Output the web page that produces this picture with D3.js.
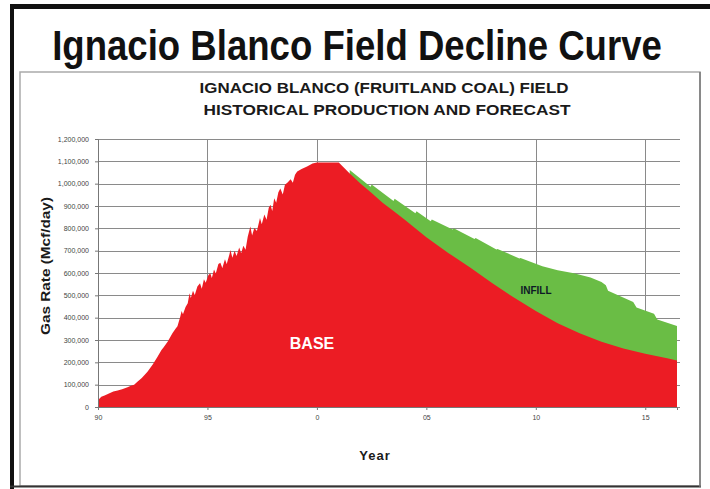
<!DOCTYPE html>
<html><head><meta charset="utf-8">
<script src="https://cdn.jsdelivr.net/npm/d3@7/dist/d3.min.js"></script>
<style>body{margin:0;background:#fff}svg{display:block}</style>
</head><body><svg id="c" width="710" height="489"></svg>
<script>
// ---- data (gas rate, Mcf/day) ----
const baseYears = [1990.00,1990.04,1990.15,1990.30,1990.50,1990.70,1990.90,1991.10,1991.35,1991.50,1991.65,1991.80,1992.00,1992.26,1992.50,1992.72,1992.90,1993.00,1993.18,1993.40,1993.55,1993.63,1993.70,1993.76,1993.82,1993.88,1994.00,1994.10,1994.18,1994.24,1994.34,1994.42,1994.54,1994.66,1994.74,1994.84,1994.92,1995.04,1995.13,1995.20,1995.30,1995.38,1995.50,1995.59,1995.68,1995.80,1995.88,1996.00,1996.05,1996.14,1996.24,1996.33,1996.45,1996.54,1996.64,1996.74,1996.84,1996.96,1997.04,1997.14,1997.26,1997.40,1997.48,1997.60,1997.70,1997.80,1997.88,1997.96,1998.05,1998.14,1998.24,1998.33,1998.44,1998.54,1998.66,1998.80,1998.90,1999.00,1999.10,1999.30,1999.55,1999.80,2000.00,2001.00,
  2001.50,2002.00,2002.50,2003.00,2003.50,2004.00,2005.00,2006.00,2007.00,2008.00,2009.00,2010.00,2011.00,2012.00,2013.00,2014.00,2015.00,2016.00,2016.45];
const baseRates = [15000,35000,46000,52000,60000,69000,74000,80000,88000,95000,100000,113000,130000,158000,190000,225000,255000,268000,292000,330000,352000,362000,385000,405000,430000,415000,448000,465000,509000,488000,520000,502000,540000,554000,530000,572000,556000,590000,599000,578000,616000,598000,640000,646000,622000,662000,640000,682000,703000,668000,700000,676000,714000,688000,722000,704000,762000,808000,768000,802000,788000,846000,818000,862000,838000,892000,906000,878000,935000,915000,962000,978000,952000,995000,1005000,1020000,1004000,1040000,1055000,1066000,1077000,1090000,1095000,1095000,
  1045000,1000000,958000,915000,878000,840000,760000,690000,625000,555000,490000,430000,375000,330000,292000,262000,238000,218000,208000];
const infillYears = [2001.50,2002.45,2002.50,2003.50,2003.55,2004.50,2004.55,2005.20,2005.25,2006.20,2006.25,2007.20,2007.25,2008.20,2008.25,2009.25,2009.30,2010.30,2011.00,2011.74,2012.50,2013.00,2013.20,2013.30,2014.45,2014.60,2015.40,2015.55,2016.45];
const totalRates = [1061000,986000,996000,922000,932000,867000,876000,832000,840000,795000,800000,752000,757000,705000,708000,665000,667000,630000,612000,599000,580000,560000,545000,520000,470000,445000,418000,392000,363000];
const yTicks = [0,100000,200000,300000,400000,500000,600000,700000,800000,900000,1000000,1100000,1200000];
const xTicks = [1990,1995,2000,2005,2010,2015];
const xTickLabels = ["90","95","0","05","10","15"];

const svg = d3.select("#c");
const FONT = "Liberation Sans, Arial, Helvetica, sans-serif";

// frame
svg.append("rect").attr("x",10).attr("y",4).attr("width",700).attr("height",5).attr("fill","#111");
svg.append("rect").attr("x",10).attr("y",4).attr("width",4).attr("height",485).attr("fill","#111");
svg.append("rect").attr("x",20).attr("y",72).attr("width",680).attr("height",414)
  .attr("fill","none").attr("stroke","#aaa").attr("stroke-width",1.5);
svg.append("line").attr("x1",10).attr("x2",701).attr("y1",486.5).attr("y2",486.5).attr("stroke","#333").attr("stroke-width",2);
svg.append("line").attr("x1",700).attr("x2",700).attr("y1",72).attr("y2",487).attr("stroke","#777").attr("stroke-width",1.5);

// main title: condensed by measuring its natural width and scaling to 610px
const tg = svg.append("g").attr("transform","translate(357,60)");
const tt = tg.append("text").attr("x",0).attr("y",0).attr("text-anchor","middle")
  .attr("font-family","Liberation Sans Narrow, Arial Narrow, Liberation Sans, Arial, sans-serif")
  .attr("font-weight","bold").attr("font-size",43).attr("fill","#111")
  .text("Ignacio Blanco Field Decline Curve");
const natural = tt.node().getComputedTextLength();
tg.attr("transform",`translate(357,60) scale(${610/natural},1)`);

svg.append("text").attr("x",384).attr("y",93).attr("text-anchor","middle")
  .attr("font-family",FONT).attr("font-weight","bold").attr("font-size",14).attr("fill","#1a1a1a")
  .attr("textLength",369).attr("lengthAdjust","spacingAndGlyphs")
  .text("IGNACIO BLANCO (FRUITLAND COAL) FIELD");
svg.append("text").attr("x",387).attr("y",115).attr("text-anchor","middle")
  .attr("font-family",FONT).attr("font-weight","bold").attr("font-size",14).attr("fill","#1a1a1a")
  .attr("textLength",367).attr("lengthAdjust","spacingAndGlyphs")
  .text("HISTORICAL PRODUCTION AND FORECAST");

// scales
const x = d3.scaleLinear().domain([1990, 2016.45]).range([98, 677]);
const y = d3.scaleLinear().domain([0, 1200000]).range([407, 139]);

// grid
const g = svg.append("g");
g.selectAll("line.h").data(yTicks).join("line").attr("class","h")
  .attr("x1",x(1990)).attr("x2",680).attr("y1",d=>Math.round(y(d))+0.5).attr("y2",d=>Math.round(y(d))+0.5)
  .attr("stroke","#8a8a8a").attr("stroke-width",1);
g.selectAll("line.v").data(xTicks.slice(1)).join("line").attr("class","v")
  .attr("x1",d=>Math.round(x(d))+0.5).attr("x2",d=>Math.round(x(d))+0.5).attr("y1",y(1200000)).attr("y2",y(0))
  .attr("stroke","#8a8a8a").attr("stroke-width",1);

// areas
const baseData = baseYears.map((yr,i)=>({yr, v: baseRates[i]}));
const totalData = infillYears.map((yr,i)=>({yr, v: totalRates[i]}));
const area = d3.area().x(d=>x(d.yr)).y0(y(0)).y1(d=>y(d.v));
svg.append("path").datum(totalData).attr("d",area).attr("fill","#6abd45");
svg.append("path").datum(baseData).attr("d",area).attr("fill","#ec1c24");

// axes
const ya = svg.append("g").attr("transform",`translate(${x(1990)},0)`)
  .call(d3.axisLeft(y).tickValues(yTicks).tickFormat(d3.format(",")).tickSize(3).tickPadding(6));
const xa = svg.append("g").attr("transform",`translate(0,${y(0)})`)
  .call(d3.axisBottom(x).tickValues(xTicks).tickFormat((d,i)=>xTickLabels[i]).tickSize(3).tickPadding(5));
[ya,xa].forEach(a=>{
  a.select(".domain").attr("stroke","#777");
  a.selectAll(".tick line").attr("stroke","#777");
  a.selectAll("text").attr("font-family",FONT).attr("font-size",7).attr("fill","#444");
});

// axis titles
svg.append("text").attr("transform","translate(50,266) rotate(-90)").attr("text-anchor","middle")
  .attr("font-family",FONT).attr("font-weight","bold").attr("font-size",13).attr("fill","#1a1a1a")
  .attr("textLength",138).attr("lengthAdjust","spacingAndGlyphs")
  .text("Gas Rate (Mcf/day)");
svg.append("text").attr("x",375).attr("y",460).attr("text-anchor","middle")
  .attr("font-family",FONT).attr("font-weight","bold").attr("font-size",13).attr("fill","#1a1a1a")
  .attr("letter-spacing",1).text("Year");

// area labels
svg.append("text").attr("x",312).attr("y",349).attr("text-anchor","middle")
  .attr("font-family",FONT).attr("font-weight","bold").attr("font-size",16).attr("fill","#fff").text("BASE");
svg.append("text").attr("x",536).attr("y",294).attr("text-anchor","middle")
  .attr("font-family",FONT).attr("font-weight","bold").attr("font-size",10).attr("fill","#0e1a26").text("INFILL");
</script>
</body></html>
